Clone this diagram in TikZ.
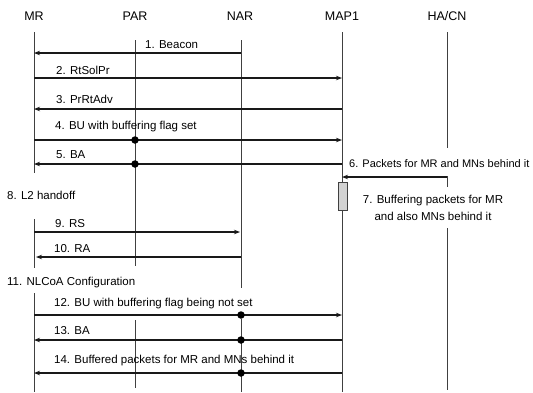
\documentclass[tikz,border=0pt]{standalone}
\usepackage{fontspec}
\setmainfont{Liberation Sans}
\usetikzlibrary{arrows.meta}
\begin{document}
\begin{tikzpicture}[x=1pt,y=-1pt,
  lbl/.style={anchor=west,inner sep=0pt,font=\fontsize{11.5}{13}\selectfont},
  hdr/.style={inner sep=0pt,font=\fontsize{12.5}{14}\selectfont},
  life/.style={draw=black!75,line width=0.8pt},
  msg/.style={draw=black!90,line width=1.2pt,-{Stealth[length=6pt,width=4.5pt]}},
  dotm/.style={circle,fill=black,inner sep=0pt,minimum size=7.5pt},
  bufbox/.style={draw=black!75,fill=gray!35,line width=0.8pt},
]
\useasboundingbox (0,0) rectangle (533,392);
% headers
\node[hdr] (hMR) at (34,16) {MR};
\node[hdr] (hPAR) at (135,16) {PAR};
\node[hdr] (hNAR) at (240,16) {NAR};
\node[hdr] (hMAP) at (342,16) {MAP1};
\node[hdr] (hHA) at (447,16) {HA/CN};
% lifeline coordinates
\coordinate (MRa) at (34,32);  \coordinate (MRb) at (34,173);
\coordinate (MRc) at (34,219); \coordinate (MRd) at (34,268);
\coordinate (MRe) at (34,293); \coordinate (MRf) at (34,392);
\coordinate (PARa) at (135,40); \coordinate (PARb) at (135,266);
\coordinate (PARc) at (135,320); \coordinate (PARd) at (135,388);
\coordinate (NARa) at (241,40); \coordinate (NARb) at (241,288);
\coordinate (NARc) at (241,319); \coordinate (NARd) at (241,392);
\coordinate (MAPa) at (342,32); \coordinate (MAPb) at (342,392);
\coordinate (HAa) at (447,32);  \coordinate (HAb) at (447,148);
\coordinate (HAc) at (447,176); \coordinate (HAd) at (447,187);
\coordinate (HAe) at (447,228); \coordinate (HAf) at (447,390);
\draw[life] (MRa) -- (MRb) (MRc) -- (MRd) (MRe) -- (MRf);
\draw[life] (PARa) -- (PARb) (PARc) -- (PARd);
\draw[life] (NARa) -- (NARb) (NARc) -- (NARd);
\draw[life] (MAPa) -- (MAPb);
\draw[life] (HAa) -- (HAb) (HAc) -- (HAd) (HAe) -- (HAf);
% message end points
\coordinate (m1s) at (241,53);  \coordinate (m1e) at (34,53);
\coordinate (m2s) at (34,78);   \coordinate (m2e) at (342,78);
\coordinate (m3s) at (342,109); \coordinate (m3e) at (34,109);
\coordinate (m4s) at (34,140);  \coordinate (m4e) at (342,140);
\coordinate (m5s) at (342,164); \coordinate (m5e) at (34,164);
\coordinate (m6s) at (447,177); \coordinate (m6e) at (342,177);
\coordinate (m9s) at (34,232);  \coordinate (m9e) at (240,232);
\coordinate (m10s) at (241,257); \coordinate (m10e) at (36,257);
\coordinate (m12s) at (34,315); \coordinate (m12e) at (342,315);
\coordinate (m13s) at (342,340); \coordinate (m13e) at (34,340);
\coordinate (m14s) at (342,373); \coordinate (m14e) at (34,373);
% messages
\draw[msg] (m1s) -- (m1e);
\node[lbl] (l1) at (145,45) {1. Beacon};
\draw[msg] (m2s) -- (m2e);
\node[lbl] (l2) at (56,70) {2. RtSolPr};
\draw[msg] (m3s) -- (m3e);
\node[lbl] (l3) at (56,99) {3. PrRtAdv};
\draw[msg] (m4s) -- (m4e);
\node[lbl] (l4) at (55,127) {4. BU with buffering flag set};
\draw[msg] (m5s) -- (m5e);
\node[lbl] (l5) at (56,155) {5. BA};
\node[dotm] (d4) at (135,140) {};
\node[dotm] (d5) at (135,164) {};
\draw[msg] (m6s) -- (m6e);
\node[lbl,font=\fontsize{11}{13}\selectfont] (l6) at (349,164) {6. Packets for MR and MNs behind it};
\node[bufbox,minimum width=9pt,minimum height=28pt,inner sep=0pt] (buf) at (342.5,196) {};
\node[inner sep=0pt,align=center,font=\fontsize{11.5}{16.5}\selectfont] (l7) at (433,208) {7. Buffering packets for MR\\and also MNs behind it};
\node[lbl] (l8) at (7,195) {8. L2 handoff};
\draw[msg] (m9s) -- (m9e);
\node[lbl] (l9) at (55,224) {9. RS};
\draw[msg] (m10s) -- (m10e);
\node[lbl] (l10) at (54,249) {10. RA};
\node[lbl] (l11) at (7,283) {11. NLCoA Configuration};
\draw[msg] (m12s) -- (m12e);
\node[lbl] (l12) at (54,304) {12. BU with buffering flag being not set};
\draw[msg] (m13s) -- (m13e);
\node[lbl] (l13) at (54,331) {13. BA};
\draw[msg,line width=2pt] (m14s) -- (m14e);
\node[lbl] (l14) at (54,361) {14. Buffered packets for MR and MNs behind it};
\node[dotm] (d12) at (241,315) {};
\node[dotm] (d13) at (241,340) {};
\node[dotm] (d14) at (241,373) {};
\end{tikzpicture}
\end{document}
